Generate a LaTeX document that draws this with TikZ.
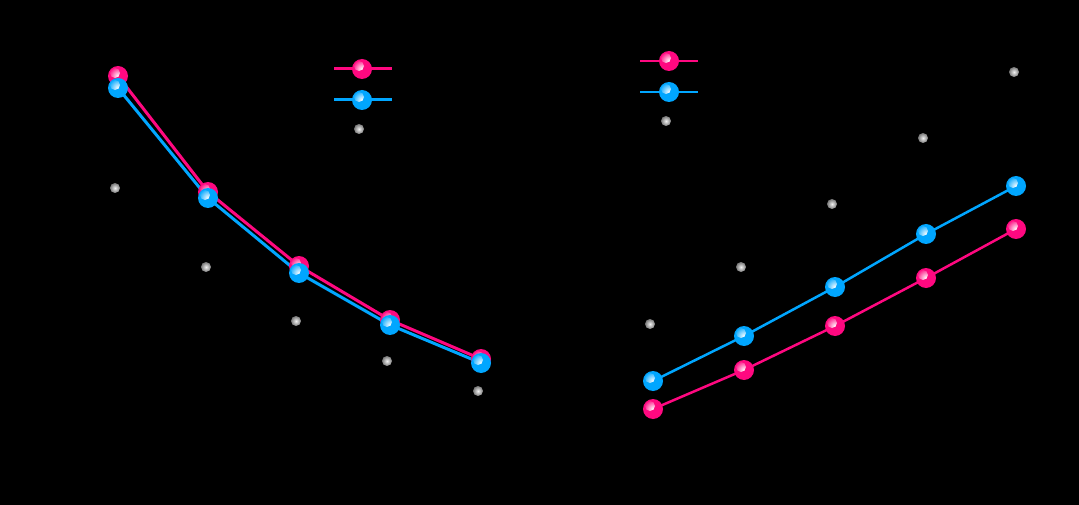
\documentclass[tikz,border=0pt]{standalone}
\usetikzlibrary{calc, positioning}

\definecolor{pinkc}{RGB}{255,8,128}
\definecolor{bluec}{RGB}{0,166,255}
\definecolor{grayc}{RGB}{120,120,120}

\pgfdeclarelayer{bg}
\pgfdeclarelayer{lines}
\pgfsetlayers{bg,lines,main}

\begin{document}
\begin{tikzpicture}[
    x=1pt, y=-1pt,
    ball/.style={circle, inner sep=0pt, minimum size=20pt, fill=#1,
        path picture={\shade[inner color=white, outer color=#1]
            ($(path picture bounding box.center)+(-3,-3)$) circle (5);}},
    dot/.style={circle, inner sep=0pt, minimum size=10pt,
        inner color=white!90!gray, outer color=grayc},
    pinkline/.style={pinkc, line width=3pt},
    blueline/.style={bluec, line width=3pt}
]

% Background -------------------------------------------------

\begin{pgfonlayer}{bg}
\fill[black] (0,0) rectangle (1079,505);
\end{pgfonlayer}

% Left plot --------------------------------------------------

\node[dot] (lg1) at (115,188) {};
\node[dot] (lg2) at (206,267) {};
\node[dot] (lg3) at (296,321) {};
\node[dot] (lg4) at (387,361) {};
\node[dot] (lg5) at (478,391) {};

\node[ball=pinkc] (lp1) at (118,76) {};
\node[ball=pinkc] (lp2) at (208,192) {};
\node[ball=pinkc] (lp3) at (299,266) {};
\node[ball=pinkc] (lp4) at (390,320) {};
\node[ball=pinkc] (lp5) at (481,359) {};

\node[ball=bluec] (lb1) at (118,88) {};
\node[ball=bluec] (lb2) at (208,198) {};
\node[ball=bluec] (lb3) at (299,273) {};
\node[ball=bluec] (lb4) at (390,325) {};
\node[ball=bluec] (lb5) at (481,363) {};

% Left legend
\coordinate (lkp1) at (334,69);
\coordinate (lkp2) at (392,69);
\coordinate (lkb1) at (334,100);
\coordinate (lkb2) at (392,100);
\node[ball=pinkc] (lkp) at (362,69) {};
\node[ball=bluec] (lkb) at (362,100) {};
\node[dot] (lkg) at (359,129) {};

% Right plot -------------------------------------------------

\node[dot] (rg1) at (650,324) {};
\node[dot] (rg2) at (741,267) {};
\node[dot] (rg3) at (832,204) {};
\node[dot] (rg4) at (923,138) {};
\node[dot] (rg5) at (1014,72) {};

\node[ball=pinkc] (rp1) at (653,409) {};
\node[ball=pinkc] (rp2) at (744,370) {};
\node[ball=pinkc] (rp3) at (835,326) {};
\node[ball=pinkc] (rp4) at (926,278) {};
\node[ball=pinkc] (rp5) at (1016,229) {};

\node[ball=bluec] (rb1) at (653,381) {};
\node[ball=bluec] (rb2) at (744,336) {};
\node[ball=bluec] (rb3) at (835,287) {};
\node[ball=bluec] (rb4) at (926,234) {};
\node[ball=bluec] (rb5) at (1016,186) {};

% Right legend
\coordinate (rkp1) at (640,61);
\coordinate (rkp2) at (698,61);
\coordinate (rkb1) at (640,92);
\coordinate (rkb2) at (698,92);
\node[ball=pinkc] (rkp) at (669,61) {};
\node[ball=bluec] (rkb) at (669,92) {};
\node[dot] (rkg) at (666,121) {};

% Lines ------------------------------------------------------

\begin{pgfonlayer}{lines}
\draw[pinkline] (lp1.center) -- (lp2.center) -- (lp3.center) -- (lp4.center) -- (lp5.center);
\draw[blueline] (lb1.center) -- (lb2.center) -- (lb3.center) -- (lb4.center) -- (lb5.center);
\draw[pinkline] (lkp1) -- (lkp2);
\draw[blueline] (lkb1) -- (lkb2);

\draw[pinkline, line width=2.5pt] (rp1.center) -- (rp2.center) -- (rp3.center) -- (rp4.center) -- (rp5.center);
\draw[blueline, line width=2.5pt] (rb1.center) -- (rb2.center) -- (rb3.center) -- (rb4.center) -- (rb5.center);
\draw[pinkline, line width=2.5pt] (rkp1) -- (rkp2);
\draw[blueline, line width=2.5pt] (rkb1) -- (rkb2);
\end{pgfonlayer}

\end{tikzpicture}
\end{document}
